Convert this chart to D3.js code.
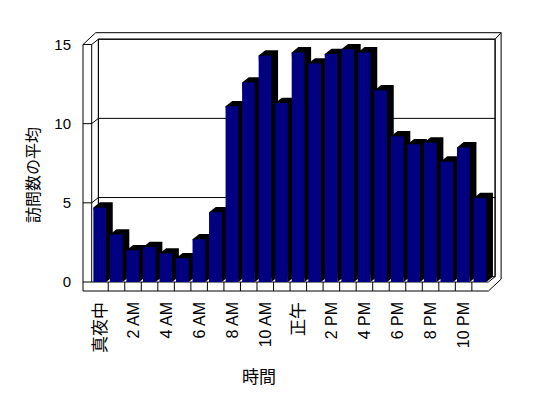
<!DOCTYPE html>
<html>
<head>
<meta charset="utf-8">
<script src="https://cdn.jsdelivr.net/npm/d3@7"></script>
<style>
  html, body { margin: 0; padding: 0; background: #fff; }
  svg { display: block; }
  text { font-family: "Liberation Sans", "Noto Sans CJK JP", sans-serif; fill: #000; }
</style>
</head>
<body>
<div id="chart"></div>
<script>
// 時間ごとの訪問数の平均
const hours = [
  '真夜中', '1 AM', '2 AM', '3 AM', '4 AM', '5 AM', '6 AM', '7 AM', '8 AM', '9 AM', '10 AM', '11 AM',
  '正午', '1 PM', '2 PM', '3 PM', '4 PM', '5 PM', '6 PM', '7 PM', '8 PM', '9 PM', '10 PM', '11 PM'
];
const visits = [
  4.7, 3.0, 2.0, 2.2, 1.8, 1.5, 2.7, 4.4, 11.1, 12.6, 14.3, 11.3,
  14.5, 13.8, 14.4, 14.7, 14.5, 12.1, 9.2, 8.7, 8.8, 7.6, 8.5, 5.3
];
const yTicks = [0, 5, 10, 15];
const xTickLabels = hours.filter((d, i) => i % 2 === 0);

const W = 548, H = 398;
const D = { dx: 6.7, dy: -5.3 };   // depth of floor
const T = { dx: 6, dy: -6.5 };     // wall thickness
const wallL = 83, slabB = 291;

const svg = d3.select('#chart').append('svg')
  .attr('width', W).attr('height', H);

const x = d3.scaleBand().domain(hours).range([91.7, 488.4]);
const y = d3.scaleLinear().domain([0, 15]).range([282, 44.5]);

const xL = x.range()[0], xR = x.range()[1];
const y0 = y(0), yTop = y(15);
const line = (pts) => 'M' + pts.map(p => p.join(',')).join('L');

const g = svg.append('g').attr('fill', 'none').attr('stroke', '#000').attr('stroke-width', 1);

// back wall + side wall
g.append('path').attr('fill', '#fff')
  .attr('d', line([[xL + D.dx, yTop + D.dy], [xR + D.dx, yTop + D.dy], [xR + D.dx, y0 + D.dy], [xL + D.dx, y0 + D.dy]]) + 'Z');

// gridlines
yTicks.filter(v => v > 0).forEach(v => {
  const yy = y(v);
  g.append('path').attr('d', line([[wallL, yy], [xL, yy], [xL + D.dx, yy + D.dy], [xR + D.dx, yy + D.dy]]));
});

// left wall inner edge and back wall right edge
g.append('path').attr('d', line([[xL, yTop], [xL, y0]]));
g.append('path').attr('d', line([[xL + D.dx, yTop + D.dy], [xL + D.dx, y0 + D.dy]]));
g.append('path').attr('d', line([[xR, y0], [xR + D.dx, y0 + D.dy], [xR + D.dx, yTop + D.dy], [xR + D.dx + T.dx, yTop + D.dy + T.dy]]));

// outer outline
const ox = D.dx + T.dx, oy = D.dy + T.dy;
g.append('path')
  .attr('d', line([[wallL, slabB], [xR, slabB], [xR + ox, slabB + oy], [xR + ox, yTop + oy], [wallL + ox, yTop + oy], [wallL, yTop], [wallL, slabB]]));
g.append('path').attr('d', line([[wallL, yTop], [xL, yTop]]));

// floor slab front face
g.append('path').attr('d', line([[wallL, y0], [xR, y0]]));
g.selectAll('path.tick').data(hours.slice(1)).join('path').attr('class', 'tick')
  .attr('d', d => line([[x(d), y0], [x(d), slabB]]));

// bars
const bw = x.bandwidth();
const bars = svg.append('g').attr('stroke', 'none');
hours.forEach((h, i) => {
  const v = visits[i];
  const x0 = x(h) + bw * 0.1, x1 = x0 + bw * 0.77, yv = y(v);
  bars.append('path').attr('fill', '#000')
    .attr('d', line([[x0, yv], [x0 + D.dx, yv + D.dy], [x1 + D.dx, yv + D.dy], [x1 + D.dx, y0 + D.dy], [x1, y0]]) + 'Z');
  bars.append('rect').attr('fill', '#000080')
    .attr('x', x0).attr('y', yv).attr('width', x1 - x0).attr('height', y0 - yv);
});

// y axis labels
const yAxis = svg.append('g').attr('transform', 'translate(71,0)')
  .call(d3.axisLeft(y).tickValues(yTicks).tickSize(0).tickPadding(0));
yAxis.select('.domain').remove();
yAxis.selectAll('text').style('font-size', '15px').attr('fill', '#000')
  .style('font-family', '"Liberation Sans", "Noto Sans CJK JP", sans-serif');

// x labels, every other hour
svg.append('g').selectAll('text').data(xTickLabels).join('text')
  .attr('transform', d => `translate(${x(d) + bw / 2},302) rotate(-90)`)
  .attr('text-anchor', 'end').attr('dy', '0.35em')
  .style('font-size', d => /[A-Z]/.test(d) ? '16px' : '17px')
  .text(d => d);

// axis titles
svg.append('text').attr('x', 259).attr('y', 383).attr('text-anchor', 'middle')
  .style('font-size', '17px').text('時間');
svg.append('text').attr('transform', 'translate(33,175) rotate(-90)')
  .attr('text-anchor', 'middle').attr('dy', '0.35em')
  .style('font-size', '16px').text('訪問数の平均');
</script>
</body>
</html>
